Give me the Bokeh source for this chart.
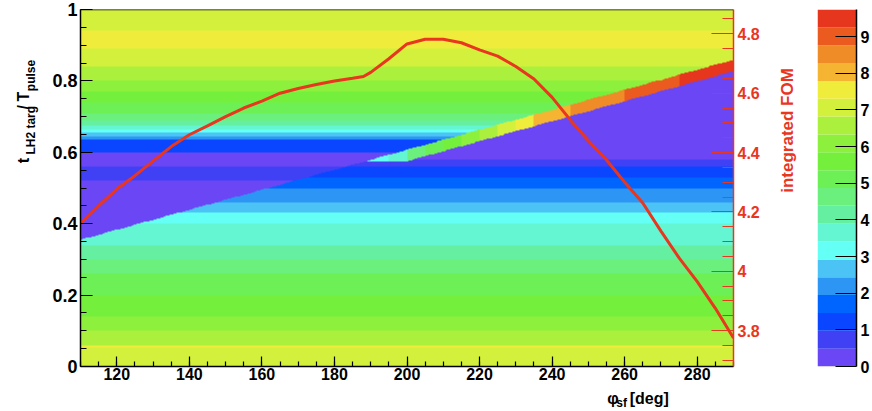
import numpy as np
from math import pi
from bokeh.plotting import figure
from bokeh.models import Range1d, LinearAxis, FixedTicker, LinearColorMapper, Span
from bokeh.layouts import row, column
from bokeh.core.properties import value
from bokeh.embed import file_html
from bokeh.resources import INLINE

FONT = "Liberation Sans"
RED = "#e8361f"

# ---------------- data ----------------
phi_ticks = [120, 140, 160, 180, 200, 220, 240, 260, 280]
phi_minor = list(range(110, 291, 5))
t_ticks = [0.0, 0.2, 0.4, 0.6, 0.8, 1.0]
t_labels = ["0", "0.2", "0.4", "0.6", "0.8", "1"]
t_minor = [round(0.05 * i, 2) for i in range(21)]
fom_ticks = [3.8, 4.0, 4.2, 4.4, 4.6, 4.8]
fom_labels = ["3.8", "4", "4.2", "4.4", "4.6", "4.8"]
fom_minor = [round(3.7 + 0.05 * i, 2) for i in range(24)]
z_ticks = [0, 1, 2, 3, 4, 5, 6, 7, 8, 9]
z_max = 9.74

# 20 contour colours, bottom (0) to top
palette = ["#6b46f5", "#4040f5", "#0a46ff", "#0064ff", "#2d96f5",
           "#4bc3f5", "#64fff5", "#64f5d2", "#64f0a0", "#6cf07d",
           "#6cf055", "#74f03c", "#8cf03c", "#aaf03c", "#d2f03c",
           "#f0ec3c", "#f5b432", "#f08c28", "#eb5a1e", "#e6371e"]

# background profile below the timing edge (band lower edge, value)
below_t = [0.00, 0.052, 0.060, 0.10, 0.14, 0.20, 0.26, 0.30, 0.34, 0.40,
           0.43, 0.46, 0.50, 0.53, 0.56, 0.58]
below_z = [6.9, 7.4, 6.7, 6.2, 5.6, 5.1, 4.6, 4.1, 3.6, 3.1,
           2.7, 2.2, 1.6, 1.2, 0.7, 0.2]
# background profile above the timing edge
above_t = [0.00, 0.52, 0.56, 0.60, 0.635, 0.645, 0.655, 0.665, 0.675, 0.69,
           0.71, 0.74, 0.77, 0.80, 0.84, 0.89, 0.94]
above_z = [0.2, 0.6, 0.3, 1.3, 2.0, 2.6, 3.2, 3.6, 4.2, 4.7,
           5.2, 5.6, 6.0, 6.5, 6.9, 7.35, 7.0]
# timing edge (straight line) and the strip that rides on it
edge_phi = [110, 290]
edge_t = [0.355, 0.859]
strip_width = 0.032
strip_floor = 0.575
strip_phi = [189, 195, 200, 205, 210, 215, 220, 225, 230, 235, 245, 260, 275]
strip_z = [3.2, 3.8, 4.6, 5.1, 5.6, 6.1, 6.6, 7.0, 7.5, 8.0, 8.5, 9.0, 9.5]

# integrated FOM curve
fom_phi = [110, 115, 120, 125, 130, 135, 140, 145, 150, 155, 160, 165, 170,
           175, 180, 185, 188, 190, 195, 200, 205, 210, 215, 220, 225, 230,
           235, 240, 245, 250, 255, 260, 265, 270, 275, 280, 285, 290]
fom_val = [4.16, 4.22, 4.277, 4.322, 4.371, 4.42, 4.46, 4.49, 4.521, 4.55,
           4.573, 4.60, 4.616, 4.629, 4.641, 4.65, 4.656, 4.67, 4.716, 4.766,
           4.782, 4.782, 4.77, 4.746, 4.725, 4.69, 4.648, 4.586, 4.51, 4.44,
           4.375, 4.30, 4.23, 4.135, 4.045, 3.965, 3.875, 3.775]

# ---------------- build the 2D histogram ----------------
nx, ny = 360, 400
xc = 110 + (np.arange(nx) + 0.5) * 180 / nx
yc = (np.arange(ny) + 0.5) / ny
X, Y = np.meshgrid(xc, yc)


def profile(edges, vals, v):
    idx = np.searchsorted(edges, v, side="right") - 1
    return np.asarray(vals, dtype=float)[np.clip(idx, 0, len(vals) - 1)]


T = edge_t[0] + (X - edge_phi[0]) * (edge_t[1] - edge_t[0]) / (edge_phi[1] - edge_phi[0])
B = np.maximum(strip_floor, T - strip_width)
Z = np.where(Y >= T, profile(above_t, above_z, Y), profile(below_t, below_z, Y))
S = profile(strip_phi, strip_z, X)
mask = (Y >= B) & (Y < T) & (X >= strip_phi[0])
Z = np.where(mask, S, Z)

# ---------------- main figure ----------------
p = figure(width=730, height=385, x_range=Range1d(110, 290), y_range=Range1d(0, 1),
           output_backend="svg", toolbar_location=None,
           min_border_left=40, min_border_right=37, min_border_top=9, min_border_bottom=19)
p.grid.visible = False
p.outline_line_color = None
p.background_fill_color = "white"

mapper = LinearColorMapper(palette=palette, low=0, high=z_max)
p.image(image=[Z], x=110, y=0, dw=180, dh=1, color_mapper=mapper)

p.extra_y_ranges = {"fom": Range1d(3.679, 4.882)}
p.line(fom_phi, fom_val, y_range_name="fom", line_color=RED, line_width=3)


def style_axis(ax, color, size, tin, tmin, standoff=4):
    ax.axis_line_color = color
    ax.axis_line_width = 1.5
    ax.major_tick_line_color = color
    ax.minor_tick_line_color = color
    ax.major_tick_line_width = 1.2
    ax.minor_tick_line_width = 1.2
    ax.major_tick_in = tin
    ax.major_tick_out = 0
    ax.minor_tick_in = tmin
    ax.minor_tick_out = 0
    ax.major_label_text_font = FONT
    ax.major_label_text_font_style = "bold"
    ax.major_label_text_font_size = size
    ax.major_label_text_color = color
    ax.major_label_standoff = standoff


xa = p.xaxis[0]
xa.ticker = FixedTicker(ticks=phi_ticks, minor_ticks=phi_minor)
style_axis(xa, "black", "16px", 10, 5, standoff=1)

ya = p.yaxis[0]
ya.ticker = FixedTicker(ticks=t_ticks, minor_ticks=t_minor)
ya.major_label_overrides = dict(zip(t_ticks, t_labels))
style_axis(ya, "black", "18px", 12, 6, standoff=3)

ra = LinearAxis(y_range_name="fom", ticker=FixedTicker(ticks=fom_ticks, minor_ticks=fom_minor),
                major_label_overrides=dict(zip(fom_ticks, fom_labels)))
style_axis(ra, RED, "16px", 22, 11)
p.add_layout(ra, "right")

p.add_layout(Span(location=1, dimension="width", line_color="black", line_width=1.5))


# ---------------- text-only panels for the axis titles ----------------
def text_panel(w, h):
    f = figure(width=w, height=h, x_range=Range1d(0, w), y_range=Range1d(0, h),
               output_backend="svg", toolbar_location=None,
               min_border_left=0, min_border_right=0, min_border_top=0, min_border_bottom=0,
               x_axis_location=None, y_axis_location=None)
    f.grid.visible = False
    f.outline_line_color = None
    return f


def lab(fig, text, x, y, size, color="black", angle=0.0):
    fig.text(x=[x], y=[y], text=[text], angle=angle,
             text_font=value(FONT), text_font_style="bold", text_font_size=size,
             text_color=color, text_align="left", text_baseline="alphabetic")


# y axis title  t_{LH2 targ} / T_{pulse}
yt = text_panel(40, 411)
lab(yt, "t", 23, 411 - 177, "16px", angle=pi / 2)
lab(yt, "LH2 targ", 30, 411 - 167, "12px", angle=pi / 2)
lab(yt, "/", 23, 411 - 115, "16px", angle=pi / 2)
lab(yt, "T", 23, 411 - 106, "16px", angle=pi / 2)
lab(yt, "pulse", 30, 411 - 94, "12px", angle=pi / 2)

# x axis title  phi_sf [deg]   (panel below the main plot)
xt = text_panel(730, 26)
lab(xt, "\u03c6", 589, 13, "16px")
lab(xt, "sf", 599, 9, "12px")
lab(xt, "[deg]", 614, 13, "16px")

# right axis title
rt = text_panel(30, 411)
lab(rt, "integrated FOM", 17, 200, "17px", color=RED, angle=pi / 2)

# ---------------- colour bar ----------------
levels = np.linspace(0, z_max, len(palette) + 1)
p2 = figure(width=72, height=411, x_range=Range1d(0, 1), y_range=Range1d(0, z_max),
            output_backend="svg", toolbar_location=None,
            min_border_left=17, min_border_right=14, min_border_top=9, min_border_bottom=45,
            x_axis_location=None, y_axis_location="right")
p2.grid.visible = False
p2.outline_line_color = None
p2.quad(left=0, right=1, bottom=levels[:-1], top=levels[1:], fill_color=palette, line_color=None)
ca = p2.yaxis[0]
ca.ticker = FixedTicker(ticks=z_ticks, minor_ticks=[])
style_axis(ca, "black", "16px", 21, 0)

layout = row(yt, column(p, xt), rt, p2)
open("out.html", "w").write(file_html(layout, INLINE))
